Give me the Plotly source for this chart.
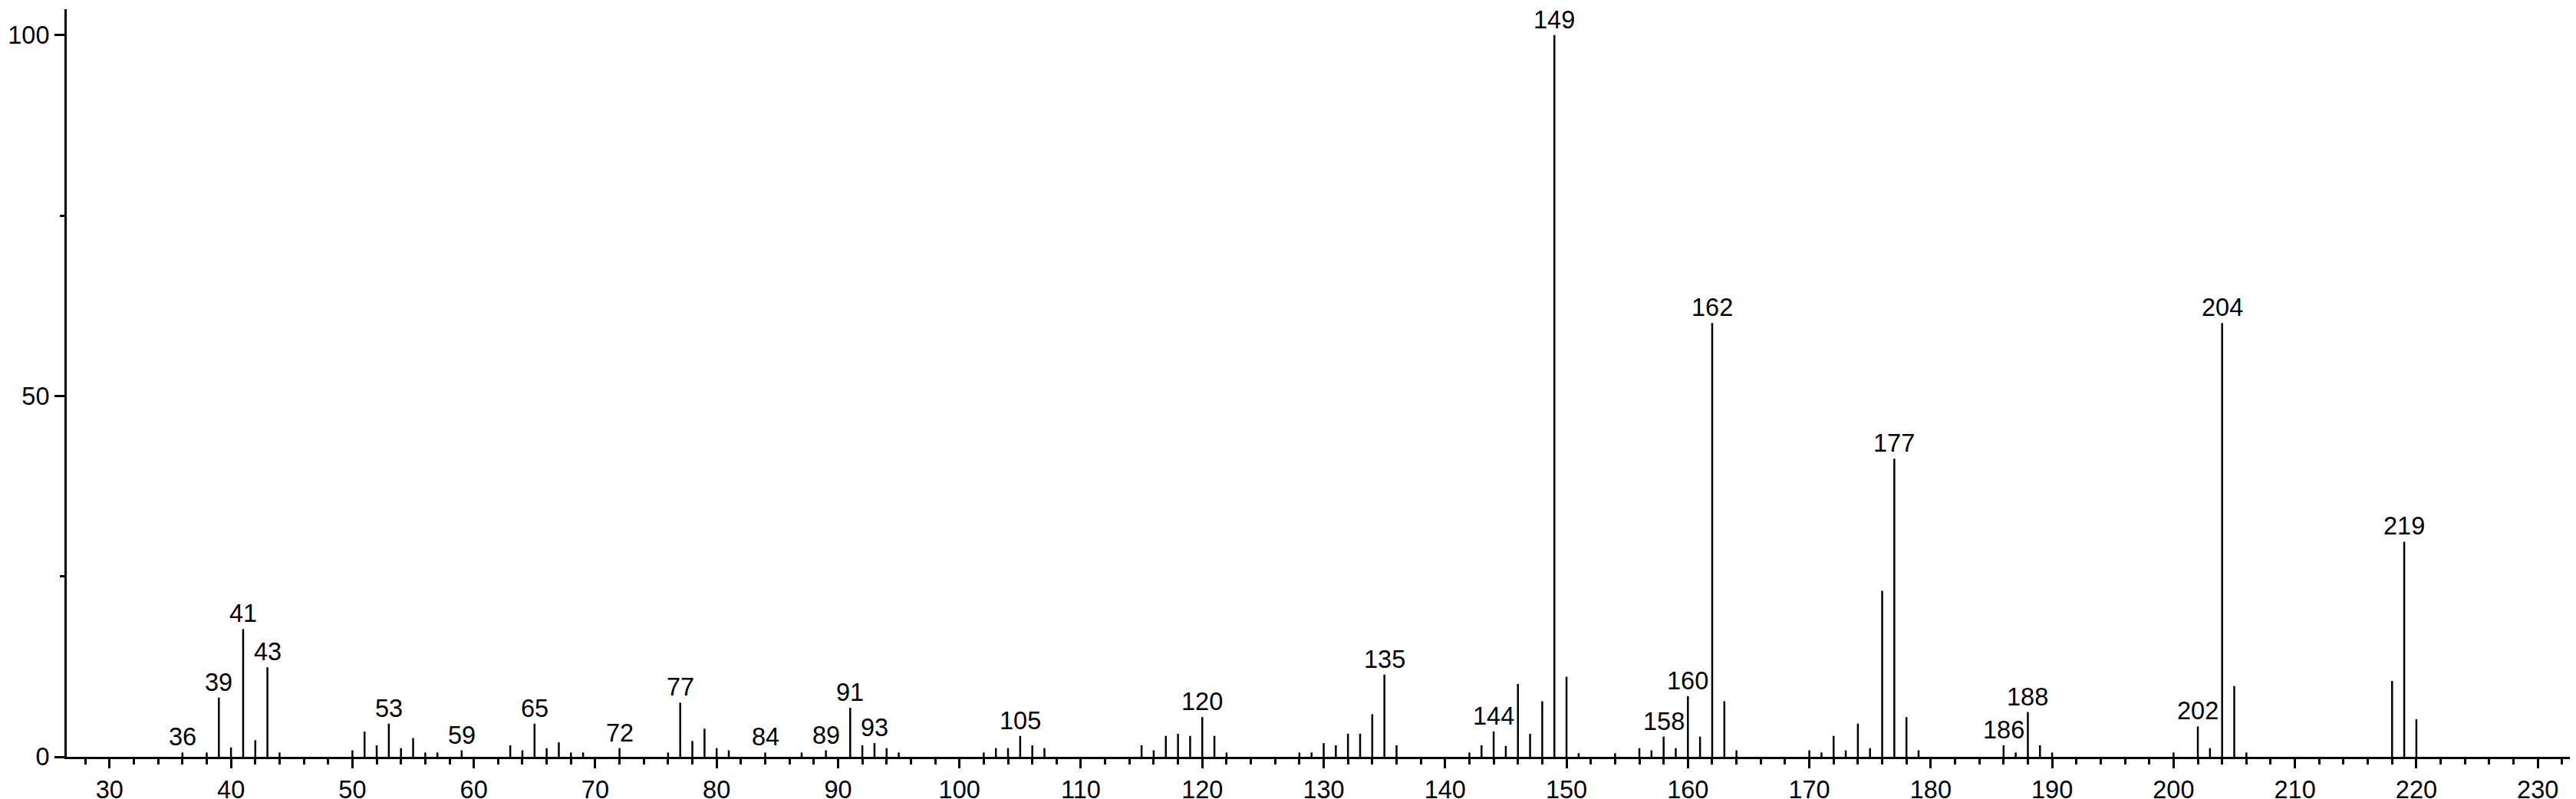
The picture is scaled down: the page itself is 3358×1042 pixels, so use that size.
import plotly.graph_objects as go

# m/z values and relative intensities (%)
mz = [36, 38, 39, 40, 41, 42, 43, 44,
      50, 51, 52, 53, 54, 55, 56, 57, 59,
      63, 64, 65, 66, 67, 68, 69, 72,
      76, 77, 78, 79, 80, 81, 84, 87, 89,
      91, 92, 93, 94, 95,
      102, 103, 104, 105, 106, 107,
      115, 116, 117, 118, 119, 120, 121, 122,
      128, 129, 130, 131, 132, 133, 134, 135, 136,
      142, 143, 144, 145, 146, 147, 148, 149, 150, 151, 154,
      156, 157, 158, 159, 160, 161, 162, 163, 164,
      170, 171, 172, 173, 174, 175, 176, 177, 178, 179,
      186, 187, 188, 189, 190,
      200, 202, 203, 204, 205, 206,
      218, 219, 220]
intensity = [0.6, 0.6, 8.2, 1.3, 17.7, 2.3, 12.4, 0.6,
             0.9, 3.5, 1.6, 4.6, 1.2, 2.6, 0.6, 0.6, 0.9,
             1.6, 0.9, 4.6, 1.2, 2.0, 0.6, 0.6, 1.2,
             0.6, 7.5, 2.2, 3.9, 1.2, 0.9, 0.6, 0.6, 0.9,
             6.8, 1.6, 1.9, 1.2, 0.6,
             0.6, 1.2, 1.2, 2.9, 1.6, 1.2,
             1.6, 0.9, 2.9, 3.2, 2.9, 5.5, 2.9, 0.6,
             0.6, 0.6, 1.9, 1.6, 3.2, 3.2, 5.9, 11.4, 1.6,
             0.6, 1.6, 3.5, 1.5, 10.1, 3.2, 7.7, 100.0, 11.1, 0.5, 0.5,
             1.2, 0.9, 2.8, 1.2, 8.4, 2.8, 60.1, 7.7, 0.9,
             0.9, 0.6, 2.9, 0.9, 4.6, 1.2, 23.0, 41.3, 5.5, 0.9,
             1.6, 0.6, 6.2, 1.6, 0.6,
             0.6, 4.2, 1.2, 60.1, 9.8, 0.6,
             10.5, 29.8, 5.2]

# peaks that carry an m/z label
labeled_mz = [36, 39, 41, 43, 53, 59, 65, 72, 77, 84, 89, 91, 93, 105, 120,
              135, 144, 149, 158, 160, 162, 177, 186, 188, 202, 204, 219]

x_tickvals = list(range(30, 231, 10))
y_tickvals = [0, 50, 100]

FONT = "Liberation Sans, Arial, Helvetica, sans-serif"
FS = 32.5

xs, ys = [], []
for m, h in zip(mz, intensity):
    xs += [m, m, None]
    ys += [0, h, None]

fig = go.Figure()
fig.add_trace(go.Scatter(x=xs, y=ys, mode="lines",
                         line=dict(color="black", width=2.5),
                         hoverinfo="skip", showlegend=False))

height_of = dict(zip(mz, intensity))
for m in labeled_mz:
    fig.add_annotation(x=m, y=height_of[m], text=str(m), showarrow=False,
                       yanchor="bottom", xanchor="center", yshift=0,
                       font=dict(family=FONT, size=FS, color="black"))

W, H = 3358, 1042
ml, mr, mt, mb = 70, 2, 4, 54
plot_w = W - ml - mr
plot_h = H - mt - mb
px_per_unit_x = 15.87
px_per_unit_y = 9.5
x0 = 26.47

fig.update_layout(
    width=W, height=H,
    margin=dict(l=ml, r=mr, t=mt, b=mb),
    plot_bgcolor="white", paper_bgcolor="white",
    font=dict(family=FONT, size=FS, color="black"),
    xaxis=dict(range=[x0, x0 + plot_w / px_per_unit_x],
               tickvals=x_tickvals, ticktext=[str(v) for v in x_tickvals],
               ticks="outside", ticklen=12, tickwidth=2.5, tickcolor="black",
               showline=True, linecolor="black", linewidth=3,
               showgrid=False, zeroline=False,
               minor=dict(dtick=2, tick0=0, ticks="outside", ticklen=7,
                          tickwidth=2.5, tickcolor="black", showgrid=False),
               tickfont=dict(family=FONT, size=FS, color="black")),
    yaxis=dict(range=[0, plot_h / px_per_unit_y],
               tickvals=y_tickvals, ticktext=[str(v) for v in y_tickvals],
               ticks="outside", ticklen=13, tickwidth=2.5, tickcolor="black",
               showline=True, linecolor="black", linewidth=3,
               showgrid=False, zeroline=False,
               minor=dict(dtick=25, tick0=0, ticks="outside", ticklen=6,
                          tickwidth=2.5, tickcolor="black", showgrid=False),
               tickfont=dict(family=FONT, size=FS, color="black")),
)

fig.write_html("out.html")
